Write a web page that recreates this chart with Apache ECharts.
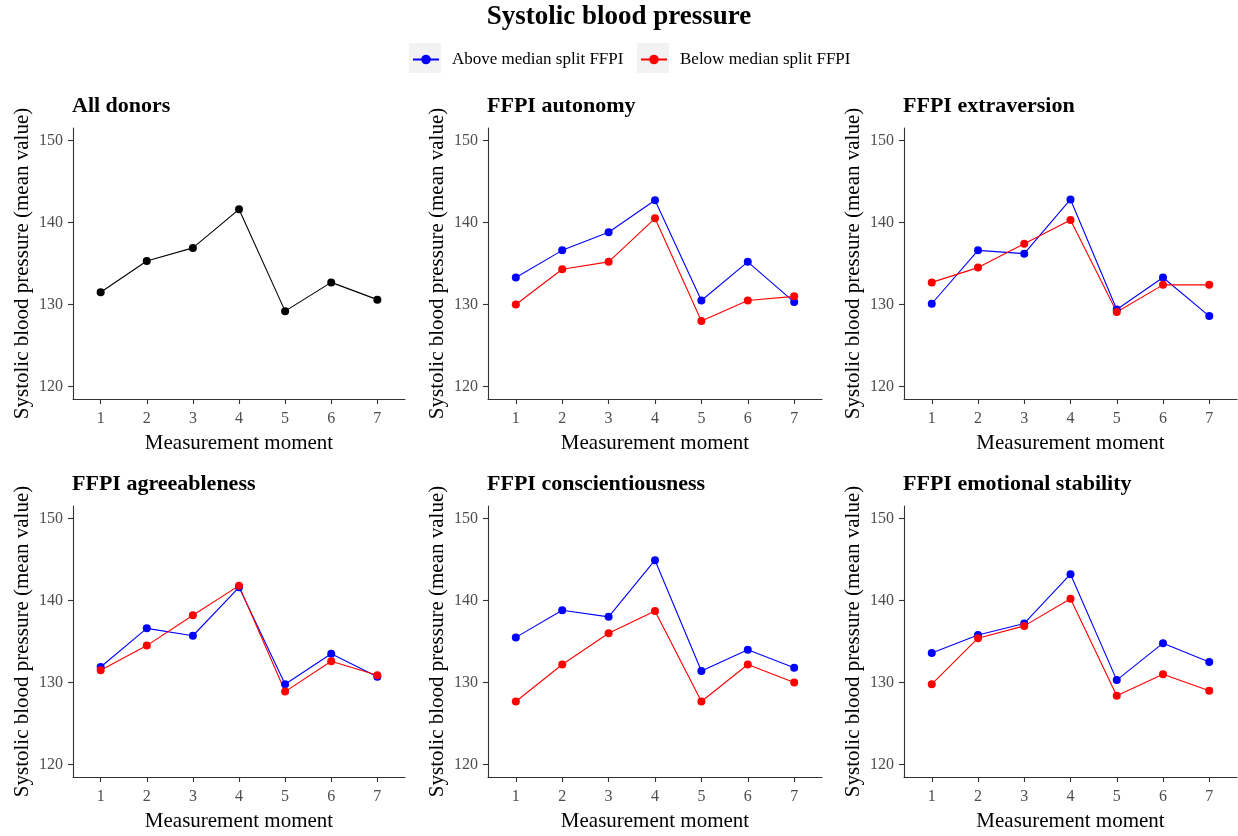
<!DOCTYPE html>
<html>
<head>
<meta charset="utf-8">
<script src="https://cdn.jsdelivr.net/npm/echarts@6/dist/echarts.min.js"></script>
<style>
html,body{margin:0;padding:0;background:#fff;}
#chart{width:1238px;height:836px;}
</style>
</head>
<body>
<div id="chart"></div>
<script>
const categories = [1, 2, 3, 4, 5, 6, 7];
const yTicks = [120, 130, 140, 150];
const mainTitle = 'Systolic blood pressure';
const panelTitles = ['All donors', 'FFPI autonomy', 'FFPI extraversion', 'FFPI agreeableness', 'FFPI conscientiousness', 'FFPI emotional stability'];
const seriesNames = ['Above median split FFPI', 'Below median split FFPI'];
const xName = 'Measurement moment';
const yName = 'Systolic blood pressure (mean value)';

const allDonors = [131.5, 135.3, 136.9, 141.6, 129.2, 132.7, 130.6];
const autonomyAbove = [133.3, 136.6, 138.8, 142.7, 130.5, 135.2, 130.3];
const autonomyBelow = [130.0, 134.3, 135.2, 140.5, 128.0, 130.5, 131.0];
const extraversionAbove = [130.1, 136.6, 136.2, 142.8, 129.4, 133.3, 128.6];
const extraversionBelow = [132.7, 134.5, 137.4, 140.3, 129.1, 132.4, 132.4];
const agreeablenessAbove = [131.9, 136.6, 135.7, 141.6, 129.8, 133.5, 130.7];
const agreeablenessBelow = [131.5, 134.5, 138.2, 141.8, 128.9, 132.6, 130.9];
const conscientiousnessAbove = [135.5, 138.8, 138.0, 144.9, 131.4, 134.0, 131.8];
const conscientiousnessBelow = [127.7, 132.2, 136.0, 138.7, 127.7, 132.2, 130.0];
const emotionalAbove = [133.6, 135.8, 137.2, 143.2, 130.3, 134.8, 132.5];
const emotionalBelow = [129.8, 135.4, 136.9, 140.2, 128.4, 131.0, 129.0];

const FONT = '"Liberation Serif", "Times New Roman", serif';
const BLUE = '#0000FF', RED = '#FF0000', BLACK = '#000000';

const colLeft = [73, 488, 904];
const colWidth = [332, 334, 333];
const rowTop = [128, 506];
const plotH = 271;

const panels = [
  [{name: 'All donors', data: allDonors, color: BLACK}],
  [{name: seriesNames[0], data: autonomyAbove, color: BLUE}, {name: seriesNames[1], data: autonomyBelow, color: RED}],
  [{name: seriesNames[0], data: extraversionAbove, color: BLUE}, {name: seriesNames[1], data: extraversionBelow, color: RED}],
  [{name: seriesNames[0], data: agreeablenessAbove, color: BLUE}, {name: seriesNames[1], data: agreeablenessBelow, color: RED}],
  [{name: seriesNames[0], data: conscientiousnessAbove, color: BLUE}, {name: seriesNames[1], data: conscientiousnessBelow, color: RED}],
  [{name: seriesNames[0], data: emotionalAbove, color: BLUE}, {name: seriesNames[1], data: emotionalBelow, color: RED}]
];

const grids = [], xAxes = [], yAxes = [], series = [];
const titles = [{
  text: mainTitle, left: 'center', top: 4, padding: 0,
  textStyle: {fontFamily: FONT, fontWeight: 'bold', fontSize: 27, color: '#000'}
}];

panels.forEach((p, i) => {
  const r = Math.floor(i / 3), c = i % 3;
  grids.push({left: colLeft[c], top: rowTop[r], width: colWidth[c], height: plotH, containLabel: false});
  titles.push({
    text: panelTitles[i], left: colLeft[c] - 1, top: rowTop[r] - 33, padding: 0,
    textStyle: {fontFamily: FONT, fontWeight: 'bold', fontSize: 22, color: '#000'}
  });
  xAxes.push({
    type: 'value', gridIndex: i, min: 0.4, max: 7.6,
    name: xName, nameLocation: 'middle', nameGap: 44,
    nameTextStyle: {fontFamily: FONT, fontSize: 21, color: '#000', verticalAlign: 'middle'},
    axisLine: {show: true, onZero: false, lineStyle: {color: '#333', width: 1.1}},
    axisTick: {show: true, length: 5, lineStyle: {color: '#333', width: 1.1}, customValues: categories},
    axisLabel: {fontFamily: FONT, fontSize: 16, color: '#4d4d4d', margin: 12, customValues: categories},
    splitLine: {show: false}
  });
  yAxes.push({
    type: 'value', gridIndex: i, min: 118.5, max: 151.5,
    name: yName, nameLocation: 'middle', nameGap: 51,
    nameTextStyle: {fontFamily: FONT, fontSize: 21, color: '#000', verticalAlign: 'middle'},
    axisLine: {show: true, lineStyle: {color: '#333', width: 1.1}},
    axisTick: {show: true, length: 5, lineStyle: {color: '#333', width: 1.1}, customValues: yTicks},
    axisLabel: {fontFamily: FONT, fontSize: 16, color: '#4d4d4d', margin: 10, customValues: yTicks},
    splitLine: {show: false}
  });
  p.forEach(s => {
    series.push({
      type: 'line', name: s.name, xAxisIndex: i, yAxisIndex: i,
      data: categories.map((x, k) => [x, s.data[k]]),
      symbol: 'circle', symbolSize: 8, showSymbol: true,
      lineStyle: {color: s.color, width: 1.1},
      itemStyle: {color: s.color},
      emphasis: {disabled: true},
      animation: false
    });
  });
});

const legendCommon = {
  top: 51, itemWidth: 26, itemHeight: 12, padding: 0,
  textStyle: {fontFamily: FONT, fontSize: 17, color: '#000', padding: [0, 0, 0, 8]},
  selectedMode: false
};

const option = {
  backgroundColor: '#fff',
  animation: false,
  title: titles,
  legend: [
    Object.assign({}, legendCommon, {left: 412, data: [seriesNames[0]]}),
    Object.assign({}, legendCommon, {left: 640, data: [seriesNames[1]]})
  ],
  graphic: [
    {type: 'rect', left: 409, top: 43, shape: {width: 32, height: 30}, style: {fill: '#f2f2f2'}, z: -1, silent: true},
    {type: 'rect', left: 637, top: 43, shape: {width: 32, height: 30}, style: {fill: '#f2f2f2'}, z: -1, silent: true}
  ],
  grid: grids,
  xAxis: xAxes,
  yAxis: yAxes,
  series: series
};

const chart = echarts.init(document.getElementById('chart'), null, {renderer: 'canvas'});
chart.setOption(option);
</script>
</body>
</html>
